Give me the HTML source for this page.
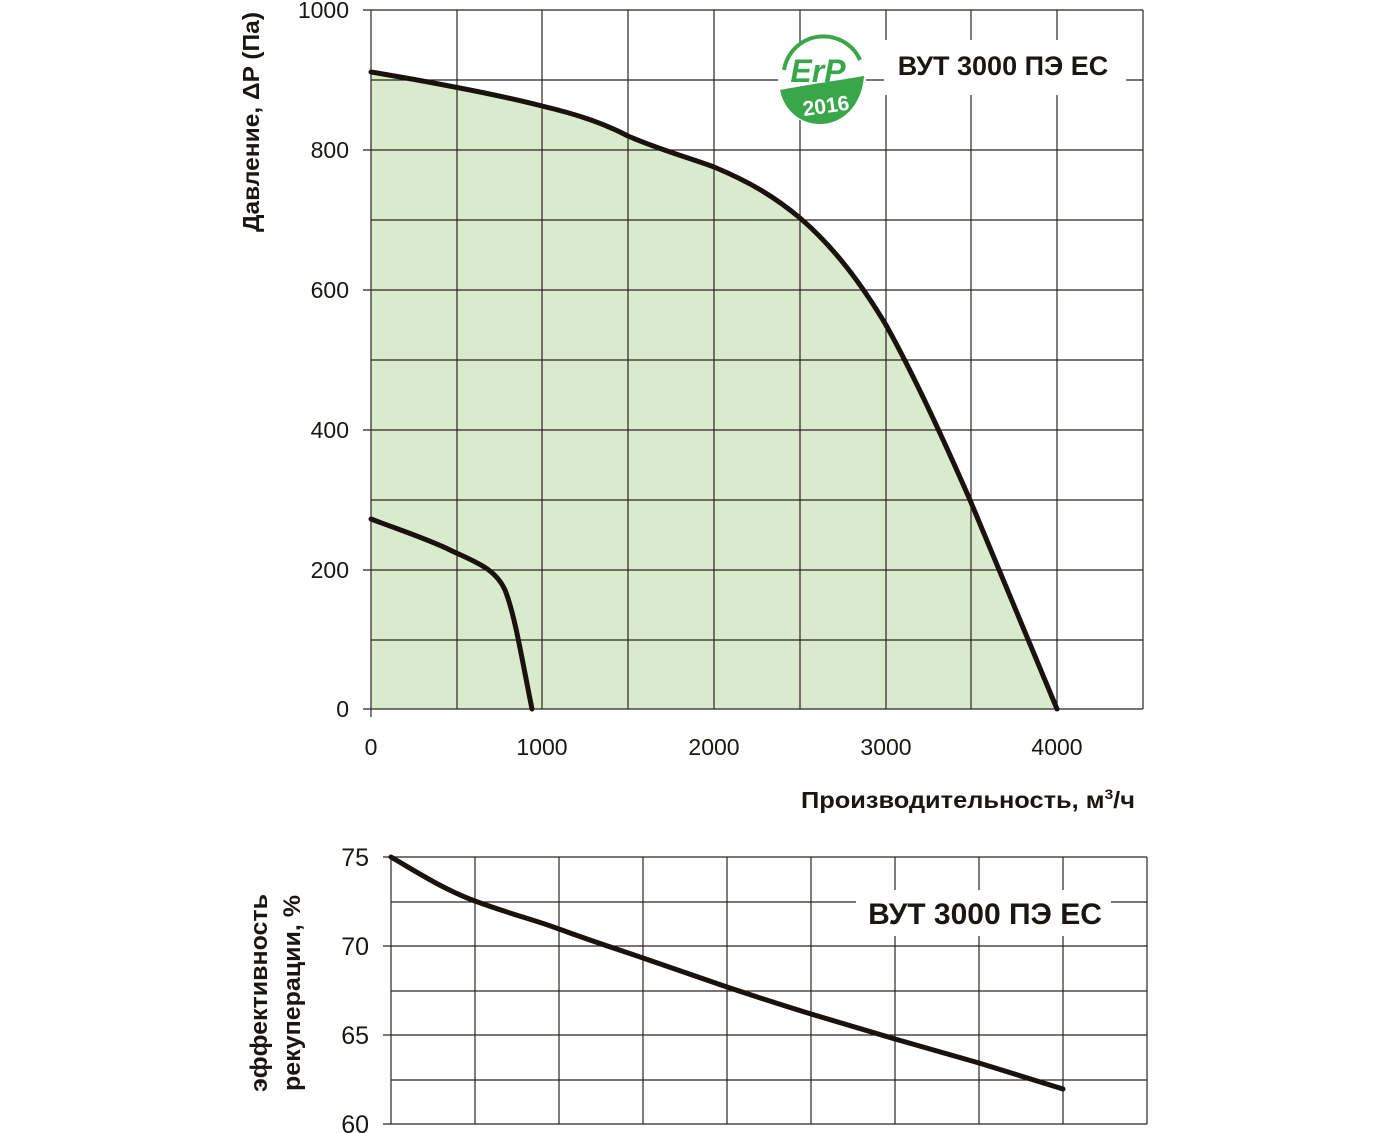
<!DOCTYPE html>
<html><head><meta charset="utf-8"><style>
html,body{margin:0;padding:0;background:#fff;}
svg{display:block;font-family:"Liberation Sans",Arial,sans-serif;}
</style></head><body>
<svg width="1385" height="1133" viewBox="0 0 1385 1133" xmlns="http://www.w3.org/2000/svg">
<path d="M371,72 C420,80 500,95 542,106 C580,115 605,124 628,136 C660,150 690,158 714,167 C750,182 775,197 800,218 C835,248 862,285 886,325 C910,368 935,420 970,500 L1057,709 L371,709 Z" fill="#d9ebcc"/>
<g stroke="#2a2520" stroke-width="1.2" fill="none">
<path d="M457,10V709M542,10V709M628,10V709M714,10V709M800,10V709M886,10V709M971,10V709M1057,10V709M1143,10V709"/>
<path d="M363,10H1143M371,80H1143M363,150H1143M371,220H1143M363,290H1143M371,360H1143M363,430H1143M371,500H1143M363,570H1143M371,640H1143M363,709H1143"/>
<path d="M371,10V717"/>
</g>
<rect x="884" y="40" width="242" height="55" fill="#fff"/>
<text x="1003" y="75" font-size="27" font-weight="bold" text-anchor="middle" fill="#1a1612">ВУТ 3000 ПЭ ЕС</text>
<g>
<circle cx="822" cy="82" r="44" fill="#fff"/>
<path d="M784,70 A40,40 0 0 1 860,60" fill="none" stroke="#3aa64a" stroke-width="4"/>
<path d="M780,90 C800,86 840,80 864,76 C862,104 844,124 820,124 C800,124 784,110 780,90 Z" fill="#3aa64a"/>
<text x="818" y="82" font-size="32" font-weight="bold" fill="#3aa64a" text-anchor="middle" font-style="italic">ErP</text>
<text x="826" y="113" font-size="21" font-weight="bold" fill="#fff" text-anchor="middle" transform="rotate(-8 826 106)">2016</text>
</g>
<path d="M371,72 C420,80 500,95 542,106 C580,115 605,124 628,136 C660,150 690,158 714,167 C750,182 775,197 800,218 C835,248 862,285 886,325 C910,368 935,420 970,500 L1057,709" fill="none" stroke="#1a120c" stroke-width="5" stroke-linecap="round"/>
<path d="M371,519 C400,530 430,540 450,550 C475,562 495,568 505,590 C515,615 522,660 532,709" fill="none" stroke="#1a120c" stroke-width="5" stroke-linecap="round"/>
<g font-size="23" fill="#1a1612" text-anchor="end">
<text x="349" y="18">1000</text><text x="349" y="158">800</text><text x="349" y="298">600</text>
<text x="349" y="438">400</text><text x="349" y="578">200</text><text x="349" y="717">0</text>
</g>
<g font-size="23" fill="#1a1612" text-anchor="middle">
<text x="371" y="755">0</text><text x="542" y="755">1000</text><text x="714" y="755">2000</text>
<text x="886" y="755">3000</text><text x="1057" y="755">4000</text>
</g>
<text x="1135" y="808" font-size="23" font-weight="bold" text-anchor="end" fill="#1a1612" textLength="334" lengthAdjust="spacingAndGlyphs">Производительность,  м<tspan font-size="14" dy="-9">3</tspan><tspan dy="9">/ч</tspan></text>
<text transform="translate(259,122) rotate(-90)" font-size="23" font-weight="bold" text-anchor="middle" fill="#1a1612" textLength="220" lengthAdjust="spacingAndGlyphs">Давление, ΔP (Па)</text>
<g stroke="#2a2520" stroke-width="1.2" fill="none">
<path d="M475,857V1124M559,857V1124M643,857V1124M727,857V1124M811,857V1124M895,857V1124M979,857V1124M1063,857V1124M1147,857V1124"/>
<path d="M383,857H1147M391,902H1147M383,946H1147M391,991H1147M383,1035H1147M391,1080H1147M383,1124H1147"/>
<path d="M391,857V1124"/>
</g>
<rect x="856" y="890" width="255" height="46" fill="#fff"/>
<text x="985" y="924" font-size="30" font-weight="bold" text-anchor="middle" fill="#1a1612">ВУТ 3000 ПЭ ЕС</text>
<path d="M391,857 C420,874 445,890 475,901 C510,914 535,920 559,929 C600,944 620,950 643,958 L727,987 C760,998 785,1006 811,1014 L895,1039 L979,1063 L1063,1089" fill="none" stroke="#1a120c" stroke-width="5" stroke-linecap="round"/>
<g font-size="25" fill="#1a1612" text-anchor="end">
<text x="369" y="866">75</text><text x="369" y="955">70</text><text x="369" y="1044">65</text><text x="369" y="1133">60</text>
</g>
<text transform="translate(267,993) rotate(-90)" font-size="24" font-weight="bold" text-anchor="middle" fill="#1a1612" textLength="198" lengthAdjust="spacingAndGlyphs">эффективность</text>
<text transform="translate(300,993) rotate(-90)" font-size="24" font-weight="bold" text-anchor="middle" fill="#1a1612" textLength="196" lengthAdjust="spacingAndGlyphs">рекуперации, %</text>
</svg>
</body></html>
